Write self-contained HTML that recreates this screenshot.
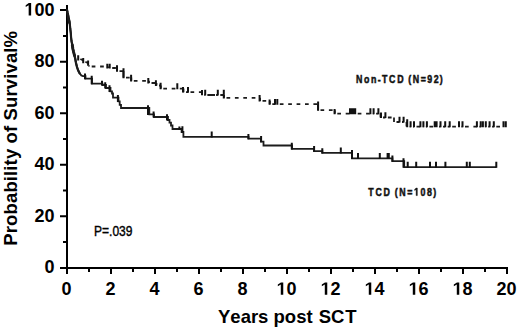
<!DOCTYPE html>
<html><head><meta charset="utf-8"><style>
html,body{margin:0;padding:0;background:#fff;width:520px;height:332px;overflow:hidden}
svg{display:block}
text{font-family:"Liberation Sans",sans-serif;font-kerning:none}
</style></head><body>
<svg width="520" height="332" viewBox="0 0 520 332">
<rect width="520" height="332" fill="#fff"/>
<g fill="none" stroke="#000" stroke-width="2">
<path d="M67.0 5V267.9H508.0 M60.0 267.90H67.0 M63.0 242.12H67.0 M60.0 216.34H67.0 M63.0 190.56H67.0 M60.0 164.78H67.0 M63.0 139.00H67.0 M60.0 113.22H67.0 M63.0 87.44H67.0 M60.0 61.66H67.0 M63.0 35.88H67.0 M60.0 10.10H67.0 M67.00 267.9V273.9 M89.00 267.9V271.9 M111.00 267.9V273.9 M133.00 267.9V271.9 M155.00 267.9V273.9 M177.00 267.9V271.9 M199.00 267.9V273.9 M221.00 267.9V271.9 M243.00 267.9V273.9 M265.00 267.9V271.9 M287.00 267.9V273.9 M309.00 267.9V271.9 M331.00 267.9V273.9 M353.00 267.9V271.9 M375.00 267.9V273.9 M397.00 267.9V271.9 M419.00 267.9V273.9 M441.00 267.9V271.9 M463.00 267.9V273.9 M485.00 267.9V271.9 M507.00 267.9V273.9"/>
</g>
<g fill="none" stroke="#1c1c1c" stroke-width="1.8" stroke-linejoin="miter">
<path d="M67.0 9.8 L67.6 12.8 L68.3 15.7 L68.8 18.6 L69.6 22.0 L69.9 25.0 L70.3 29.0 L70.8 33.0 L71.0 36.5 L71.5 41.0 L72.3 45.0 L72.9 49.0 L73.6 52.0 L74.5 55.5 L75.3 59.0 L76.0 63.0 L77.0 67.0 L78.2 70.5 L79.6 73.3 L81.3 75.4 L83.0 76.2 H85.5 V78.6 H92.0 V83.6 H102.5 V85.0 H106.0 V88.0 H110.5 V91.4 H112.0 V93.5 H113.0 V97.7 H118.5 V101.3 H119.7 V104.9 H121.0 V108.0 H149.3 V114.3 H154.0 V117.0 H168.0 V120.0 H169.5 V122.6 H171.0 V125.5 H172.5 V129.0 H181.6 V132.0 H183.4 V136.8 H248.5 V138.7 H261.0 V141.7 H263.5 V145.5 H292.0 V148.8 H314.0 V151.1 H322.3 V152.9 H352.0 V158.3 H392.4 V161.1 H404.2 V167.1 H496.5"/>
<path d="M67.0 9.8 L67.6 12.8 L68.3 15.7 L68.8 18.6 L69.6 22.0 L69.9 25.0 L70.3 29.0 L70.8 33.0 L71.0 36.5 L71.5 41.0 L72.3 45.0 L72.9 49.0 L73.6 52.0 L74.5 55.5" stroke-width="2.2" stroke-linecap="round"/>
<path d="M72.3 45L72.9 49L73.6 52L74.5 55.5" stroke-width="2.9" stroke-linecap="round"/>
<path d="M67 10L67.2 12.8L67.7 15.7L68.1 18.6L68.7 22L68.9 23.5" stroke-width="2"/>
<path d="M74.5 55.5 L75.3 59.0 L76.0 63.0 L77.0 67.0 L78.2 70.5 L79.6 73.3" stroke-width="2.3" stroke-linecap="round"/>
<path d="M78.2 57.8L83.2 60.5 M83.2 60.5L88.2 63.2 M88.2 63.2L89.2 66.5 M89.2 66.5H107.3 M107.3 66.5H108.0 M108.0 68.0H109.7 M109.7 68.0H117.0 M117.0 71.1H123.5 M123.5 77.6H131.3 M131.3 80.8H148.3 M148.3 80.8H149.0 M149.0 83.0H155.9 M155.9 83.0H156.5 M156.5 85.5H160.8 M160.8 88.6H177.3 M177.3 88.6H183.5 M183.5 92.2H188.0 M188.0 92.2H202.0 M202.0 95.0H205.2 M205.2 95.0H217.8 M217.8 95.0H224.0 M224.0 97.8H260.0 M260.0 100.9H269.8 M269.8 104.2H275.0 M275.0 104.2H277.3 M277.3 104.2H318.0 M318.0 110.2H334.8 M334.8 113.6H350.0 M350.0 113.6H352.0 M352.0 113.6H354.0 M354.0 113.6H355.2 M355.2 113.6H370.4 M370.4 113.6H373.6 M373.6 113.6H378.4 M378.4 113.6H380.5 M380.5 117.5H385.4 M385.4 117.5H394.0 M394.0 122.0H399.5 M399.5 122.0H403.6 M403.6 122.0H406.5 M406.5 126.6H407.2 M407.2 126.6H410.6 M410.6 126.6H414.0 M414.0 126.6H420.4 M420.4 126.6H423.4 M423.4 126.6H426.9 M426.9 126.6H434.7 M434.7 126.6H436.6 M436.6 126.6H440.5 M440.5 126.6H445.2 M445.2 126.6H449.7 M449.7 126.6H459.0 M459.0 126.6H462.5 M462.5 126.6H476.9 M476.9 126.6H480.7 M480.7 126.6H482.9 M482.9 126.6H485.8 M485.8 126.6H489.6 M489.6 126.6H493.8 M493.8 126.6H503.5 M503.5 126.6H505.8 M505.8 126.6H506.5" stroke-dasharray="3.7 4.7" stroke-dashoffset="5.9"/>
<path d="M108.0 66.5V68.0 M117.0 68.0V71.1 M123.5 71.1V77.6 M131.3 77.6V80.8 M149.0 80.8V83.0 M156.5 83.0V85.5 M160.8 85.5V88.6 M183.5 88.6V92.2 M202.0 92.2V95.0 M224.0 95.0V97.8 M260.0 97.8V100.9 M269.8 100.9V104.2 M318.0 104.2V110.2 M334.8 110.2V113.6 M380.5 113.6V117.5 M394.0 117.5V122.0 M406.5 122.0V126.6 M207.5 95H215"/>
</g>
<g fill="none" stroke="#111" stroke-width="2.0">
<path d="M85.0 73.4V79.2 M91.7 75.8V84.2 M102.0 80.8V85.6 M105.2 82.2V88.6 M109.5 85.2V92.0 M117.9 94.9V101.9 M148.0 105.2V114.9 M153.6 111.5V117.6 M167.0 114.2V120.6 M179.4 126.4V130.0 M182.4 126.2V132.6 M211.7 131.5V137.4 M248.4 134.0V139.3 M261.1 135.9V142.3 M291.8 142.7V149.4 M314.1 146.0V151.7 M322.3 148.3V153.5 M340.8 147.6V153.5 M352.0 150.1V158.9 M358.0 153.0V158.9 M379.8 153.0V158.9 M387.6 153.0V158.9 M388.8 153.0V158.9 M392.4 155.5V161.7 M403.5 158.3V167.7 M407.7 161.8V167.7 M416.2 161.8V167.7 M430.0 161.8V167.7 M436.0 161.8V167.7 M445.4 161.8V167.7 M466.8 161.8V167.7 M469.8 161.8V167.7 M496.3 161.8V167.7"/>
<path d="M78.2 55.3V60.6 M83.2 58.0V63.3 M88.1 60.5V65.8 M107.3 63.7V68.6 M109.7 63.7V68.6 M117.0 65.2V71.7 M123.5 68.3V78.2 M131.1 74.8V81.4 M148.3 78.0V83.6 M155.9 80.2V86.1 M160.6 82.7V89.2 M177.3 83.3V89.2 M183.0 87.1V92.4 M188.0 86.9V92.8 M202.0 89.9V95.2 M205.2 89.7V95.6 M217.8 89.7V95.6 M223.8 89.8V98.4 M259.6 95.0V101.5 M269.6 99.5V104.8 M275.0 98.9V104.8 M277.3 98.9V104.8 M318.1 101.4V110.8 M334.6 109.0V114.3 M350.0 108.3V114.2 M352.0 108.3V114.2 M354.0 108.3V114.2 M355.2 108.3V114.2 M370.4 108.3V114.2 M373.6 108.3V114.2 M378.4 108.3V114.2 M381.0 112.6V117.9 M385.4 112.2V118.1 M399.5 116.7V122.6 M403.6 116.7V122.6 M407.2 119.2V127.2 M410.6 121.3V127.2 M414.0 121.3V127.2 M420.4 121.3V127.2 M423.4 121.3V127.2 M426.9 121.3V127.2 M434.7 121.3V127.2 M436.6 121.3V127.2 M440.5 121.3V127.2 M445.2 121.3V127.2 M449.7 121.3V127.2 M459.0 121.3V127.2 M462.5 121.3V127.2 M476.9 121.3V127.2 M480.7 121.3V127.2 M482.9 121.3V127.2 M485.8 121.3V127.2 M489.6 121.3V127.2 M493.8 121.3V127.2 M503.5 121.3V127.2 M505.8 121.3V127.2"/>
</g>
<g font-weight="bold" font-size="18" fill="#000">
<text x="44.49" y="273.30">0</text>
<text x="34.48" y="221.74">20</text>
<text x="34.48" y="170.18">40</text>
<text x="34.48" y="118.62">60</text>
<text x="34.48" y="67.06">80</text>
<path transform="translate(24.47 15.50) scale(0.00879 -0.00879)" d="M478 0V1170L140 959V1180L493 1409H759V0Z"/><text x="34.48" y="15.50">00</text>
<text x="61.59" y="294.80">0</text>
<text x="105.59" y="294.80">2</text>
<text x="149.59" y="294.80">4</text>
<text x="193.59" y="294.80">6</text>
<text x="237.59" y="294.80">8</text>
<path transform="translate(276.59 294.80) scale(0.00879 -0.00879)" d="M478 0V1170L140 959V1180L493 1409H759V0Z"/><text x="286.60" y="294.80">0</text>
<path transform="translate(320.59 294.80) scale(0.00879 -0.00879)" d="M478 0V1170L140 959V1180L493 1409H759V0Z"/><text x="330.60" y="294.80">2</text>
<path transform="translate(364.59 294.80) scale(0.00879 -0.00879)" d="M478 0V1170L140 959V1180L493 1409H759V0Z"/><text x="374.60" y="294.80">4</text>
<path transform="translate(408.59 294.80) scale(0.00879 -0.00879)" d="M478 0V1170L140 959V1180L493 1409H759V0Z"/><text x="418.60" y="294.80">6</text>
<path transform="translate(452.59 294.80) scale(0.00879 -0.00879)" d="M478 0V1170L140 959V1180L493 1409H759V0Z"/><text x="462.60" y="294.80">8</text>
<text x="496.59" y="294.80">20</text>

<text x="218" y="322.6" font-size="18.5">Years post <tspan dx="1">SC</tspan><tspan dx="0.8">T</tspan></text>
<text transform="translate(16.8 245.7) rotate(-90)" font-size="18.5" letter-spacing="0.13">Probability of Survival%</text>
</g>
<g font-size="10.9" font-weight="bold" fill="#111" stroke="#111" stroke-width="0.5"><text transform="translate(356.05 82.60) scale(0.810 1)">N</text><text transform="translate(364.10 82.60) scale(0.810 1)">o</text><text transform="translate(371.06 82.60) scale(0.810 1)">n</text><text transform="translate(377.73 82.60) scale(0.810 1)">-</text><text transform="translate(381.95 82.60) scale(0.810 1)">T</text><text transform="translate(389.02 82.60) scale(0.810 1)">C</text><text transform="translate(397.20 82.60) scale(0.810 1)">D</text><text transform="translate(408.29 82.60) scale(0.810 1)">(</text><text transform="translate(412.63 82.60) scale(0.810 1)">N</text><text transform="translate(420.66 82.60) scale(0.810 1)">=</text><text transform="translate(427.29 82.60) scale(0.810 1)">9</text><text transform="translate(433.65 82.60) scale(0.810 1)">2</text><text transform="translate(439.79 82.60) scale(0.810 1)">)</text></g>
<g font-size="10.9" font-weight="bold" fill="#111" stroke="#111" stroke-width="0.5"><text transform="translate(368.23 195.60) scale(0.810 1)">T</text><text transform="translate(375.38 195.60) scale(0.810 1)">C</text><text transform="translate(383.62 195.60) scale(0.810 1)">D</text><text transform="translate(394.86 195.60) scale(0.810 1)">(</text><text transform="translate(399.26 195.60) scale(0.810 1)">N</text><text transform="translate(407.36 195.60) scale(0.810 1)">=</text><path stroke-width="93.9" transform="translate(414.06 195.60) scale(0.00431 -0.00532)" d="M478 0V1170L140 959V1180L493 1409H759V0Z"/><text transform="translate(420.50 195.60) scale(0.810 1)">0</text><text transform="translate(426.93 195.60) scale(0.810 1)">8</text><text transform="translate(433.13 195.60) scale(0.810 1)">)</text></g>
<text transform="translate(94 236) scale(0.86 1)" font-size="14" fill="#000" stroke="#000" stroke-width="0.4">P=.039</text>
</svg>
</body></html>
